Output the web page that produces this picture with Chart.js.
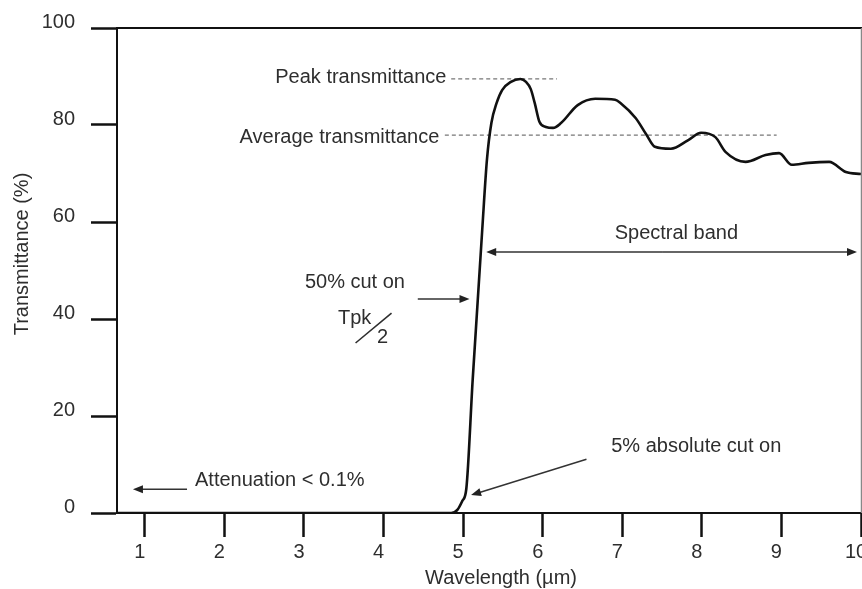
<!DOCTYPE html>
<html>
<head>
<meta charset="utf-8">
<script src="https://cdn.jsdelivr.net/npm/chart.js@4"></script>
<style>
html, body { margin: 0; padding: 0; background: #fff; overflow: hidden; }
#wrap { width: 862px; height: 589px; }
</style>
</head>
<body>
<div id="wrap"><canvas id="chart" width="862" height="589"></canvas></div>
<script>
// Data
const wavelength = [0.65, 4.7, 4.85, 4.93, 4.99, 5.04, 5.12, 5.24, 5.3, 5.355, 5.42, 5.49, 5.6, 5.72, 5.79, 5.85, 5.9, 5.96, 6.04, 6.13, 6.23, 6.44, 6.66, 6.91, 6.98, 7.17, 7.3, 7.41, 7.61, 7.83, 7.99, 8.17, 8.3, 8.55, 8.8, 8.97, 9.13, 9.34, 9.6, 9.81, 10.0];
const transmittance = [0, 0, 0, 0.7, 2.5, 5.0, 27.5, 58.4, 73, 80.4, 84.5, 87.2, 88.9, 89.5, 88.9, 87.4, 84.5, 80.6, 79.6, 79.4, 80.4, 84.1, 85.4, 85.2, 84.5, 81.4, 78.1, 75.5, 75.1, 76.9, 78.4, 77.5, 74.4, 72.4, 73.8, 74.2, 71.8, 72.2, 72.4, 70.3, 69.9];

const peakX = [4.85, 6.18];
const peakY = [89.5, 89.5];
const avgX = [4.77, 8.94];
const avgY = [77.9, 77.9];

const xTicks = [1, 2, 3, 4, 5, 6, 7, 8, 9, 10];
const yTicks = [0, 20, 40, 60, 80, 100];

const FONT = "'Liberation Sans', Arial, Helvetica, sans-serif";
const TEXT = "#2e2e2e";
const INK = "#111";

const toPoints = (xs, ys) => xs.map((x, i) => ({ x: x, y: ys[i] }));

// Annotations in data units
const labels = [
  { text: "Peak transmittance", x: 4.79, y: 89.7, align: "right" },
  { text: "Average transmittance", x: 4.70, y: 77.5, align: "right" },
  { text: "Spectral band", x: 7.68, y: 57.7, align: "center" },
  { text: "50% cut on", x: 3.64, y: 47.6, align: "center" },
  { text: "Tpk", x: 3.636, y: 40.2, align: "center" },
  { text: "2", x: 3.987, y: 36.1, align: "center" },
  { text: "5% absolute cut on", x: 7.93, y: 13.8, align: "center" },
  { text: "Attenuation < 0.1%", x: 1.63, y: 6.8, align: "left" }
];
const arrows = [
  { from: [4.43, 44.1], to: [5.08, 44.1] },
  { from: [6.55, 11.1], to: [5.10, 3.7] },
  { from: [1.53, 4.9], to: [0.85, 4.9] },
  { from: [7.5, 53.8], to: [5.29, 53.8] },
  { from: [7.5, 53.8], to: [9.95, 53.8] }
];

function arrow(ctx, x1, y1, x2, y2) {
  const a = Math.atan2(y2 - y1, x2 - x1);
  const len = 10, half = 4;
  ctx.beginPath();
  ctx.moveTo(x1, y1);
  ctx.lineTo(x2 - Math.cos(a) * len * 0.8, y2 - Math.sin(a) * len * 0.8);
  ctx.stroke();
  ctx.beginPath();
  ctx.moveTo(x2, y2);
  ctx.lineTo(x2 - Math.cos(a) * len - Math.sin(a) * half, y2 - Math.sin(a) * len + Math.cos(a) * half);
  ctx.lineTo(x2 - Math.cos(a) * len + Math.sin(a) * half, y2 - Math.sin(a) * len - Math.cos(a) * half);
  ctx.closePath();
  ctx.fill();
}

const annotate = {
  id: "annotate",
  afterDraw(chart) {
    const { ctx, chartArea: area, scales: { x, y } } = chart;
    ctx.save();
    // top and right frame
    ctx.strokeStyle = INK;
    ctx.lineWidth = 2;
    ctx.beginPath();
    ctx.moveTo(area.left, area.top);
    ctx.lineTo(chart.width, area.top);
    ctx.stroke();
    ctx.strokeStyle = "#888";
    ctx.lineWidth = 1.5;
    ctx.beginPath();
    ctx.moveTo(area.right + 0.5, area.top);
    ctx.lineTo(area.right + 0.5, area.bottom);
    ctx.stroke();

    ctx.font = "20px " + FONT;
    ctx.fillStyle = TEXT;
    ctx.textBaseline = "middle";
    labels.forEach(l => {
      ctx.textAlign = l.align;
      ctx.fillText(l.text, x.getPixelForValue(l.x), y.getPixelForValue(l.y));
    });

    // Tpk / 2 slash
    ctx.strokeStyle = TEXT;
    ctx.lineWidth = 1.6;
    ctx.beginPath();
    ctx.moveTo(x.getPixelForValue(3.648), y.getPixelForValue(35.05));
    ctx.lineTo(x.getPixelForValue(4.10), y.getPixelForValue(41.2));
    ctx.stroke();

    ctx.strokeStyle = "#333";
    ctx.fillStyle = "#222";
    ctx.lineWidth = 1.5;
    arrows.forEach(a => {
      arrow(ctx, x.getPixelForValue(a.from[0]), y.getPixelForValue(a.from[1]),
        x.getPixelForValue(a.to[0]), y.getPixelForValue(a.to[1]));
    });

    // axis titles
    ctx.fillStyle = TEXT;
    ctx.textAlign = "center";
    ctx.fillText("Wavelength (µm)", 501, 578);
    ctx.translate(22, 254);
    ctx.rotate(-Math.PI / 2);
    ctx.fillText("Transmittance (%)", 0, 0);
    ctx.restore();
  }
};

const tickFont = { family: FONT, size: 20 };

new Chart(document.getElementById("chart"), {
  type: "line",
  data: {
    datasets: [
      {
        data: toPoints(wavelength, transmittance),
        borderColor: INK,
        borderWidth: 2.6,
        cubicInterpolationMode: "monotone",
        pointRadius: 0,
        fill: false
      },
      {
        data: toPoints(peakX, peakY),
        borderColor: "#777",
        borderWidth: 1.3,
        borderDash: [4, 3],
        pointRadius: 0
      },
      {
        data: toPoints(avgX, avgY),
        borderColor: "#777",
        borderWidth: 1.3,
        borderDash: [4, 3],
        pointRadius: 0
      }
    ]
  },
  options: {
    responsive: false,
    animation: false,
    layout: { padding: { top: 28, right: 1, left: 0, bottom: 0 } },
    plugins: { legend: { display: false }, tooltip: { enabled: false } },
    scales: {
      x: {
        type: "linear",
        min: 0.65,
        max: 10,
        afterBuildTicks: s => { s.ticks = xTicks.map(v => ({ value: v })); },
        afterFit: s => { s.height = 76; s.paddingLeft = 0; s.paddingRight = 0; },
        grid: { drawOnChartArea: false, tickLength: 24, tickWidth: 2.5, tickColor: INK },
        border: { display: true, color: INK, width: 2 },
        ticks: { font: tickFont, color: TEXT, padding: 3, labelOffset: -5, maxRotation: 0, autoSkip: false }
      },
      y: {
        min: 0,
        max: 100,
        afterBuildTicks: s => { s.ticks = yTicks.map(v => ({ value: v })); },
        afterFit: s => { s.width = 117; s.paddingTop = 0; s.paddingBottom = 0; },
        grid: { drawOnChartArea: false, tickLength: 26, tickWidth: 2.5, tickColor: INK },
        border: { display: true, color: INK, width: 2 },
        ticks: { font: tickFont, color: TEXT, padding: 16, labelOffset: -6, autoSkip: false }
      }
    }
  },
  plugins: [annotate]
});
</script>
</body>
</html>
